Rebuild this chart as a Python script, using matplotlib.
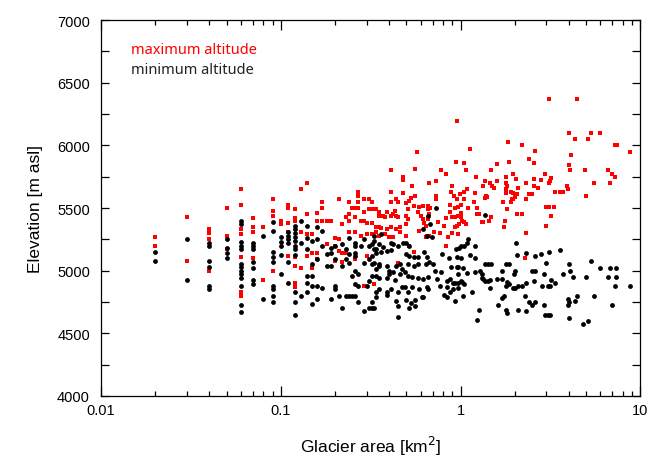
import numpy as np
import matplotlib
matplotlib.use('Agg')
import matplotlib.pyplot as plt
from matplotlib.ticker import FixedLocator, FixedFormatter, MultipleLocator

# maximum altitude per glacier: (area km2, elevation m asl)
max_points = [
    (0.02, 5270), (0.02, 5200),
    (0.03, 5430), (0.03, 5075),
    (0.04, 5330), (0.04, 5300), (0.04, 5250), (0.04, 5000),
    (0.05, 5500), (0.05, 5275), (0.05, 5175),
    (0.06, 5650), (0.06, 5525), (0.06, 5330), (0.06, 5290), (0.06, 5110), (0.06, 4830), (0.06, 4800),
    (0.07, 5420), (0.07, 5350), (0.07, 5310), (0.07, 5100),
    (0.08, 5350), (0.08, 4925),
    (0.09, 5575), (0.09, 5475), (0.09, 5440), (0.09, 5000),
    (0.10, 5400), (0.10, 5370),
    (0.11, 5525), (0.11, 5500), (0.11, 5380), (0.11, 5310), (0.11, 5120),
    (0.12, 5490), (0.12, 5420), (0.12, 5400), (0.12, 5110), (0.12, 5040), (0.12, 4900), (0.12, 4870),
    (0.14, 5700), (0.13, 5650), (0.17, 5550), (0.17, 5500), (0.21, 5570), (0.24, 5545), (0.27, 5625),
    (0.27, 5600), (0.29, 5570), (0.31, 5575), (0.32, 5545), (0.27, 5550), (0.25, 5500), (0.26, 5500),
    (0.27, 5500), (0.29, 5470), (0.31, 5490), (0.32, 5490), (0.34, 5490), (0.35, 5470), (0.14, 5450),
    (0.16, 5460), (0.16, 5400), (0.17, 5400), (0.18, 5400), (0.19, 5400), (0.15, 5290), (0.14, 5290),
    (0.13, 5310), (0.22, 5370), (0.23, 5425), (0.24, 5450), (0.24, 5400), (0.26, 5425), (0.28, 5400),
    (0.29, 5400), (0.30, 5380), (0.32, 5380), (0.34, 5345), (0.34, 5310), (0.32, 5290), (0.30, 5290),
    (0.28, 5280), (0.26, 5310), (0.24, 5310), (0.21, 5250), (0.20, 5265), (0.18, 5215), (0.20, 5195),
    (0.21, 5160), (0.22, 5145), (0.23, 5140), (0.14, 5120), (0.15, 5145), (0.16, 5145), (0.16, 5095),
    (0.13, 5025), (0.15, 5025), (0.20, 5080), (0.22, 5070), (0.26, 5095), (0.29, 4880), (0.33, 4895),
    (0.30, 5120),
    (0.95, 6195), (0.57, 5950), (0.94, 5870), (0.41, 5800), (0.56, 5810), (0.48, 5745), (0.48, 5725),
    (0.78, 5800), (0.83, 5770), (0.73, 5720), (0.67, 5700), (0.54, 5675), (0.90, 5675), (0.41, 5625),
    (0.48, 5620), (0.56, 5595), (0.73, 5595), (0.73, 5570), (0.89, 5625), (0.92, 5600), (0.44, 5575),
    (0.45, 5550), (0.52, 5560), (0.53, 5580), (0.50, 5540), (0.41, 5550), (0.96, 5575), (0.55, 5515),
    (0.59, 5510), (0.62, 5520), (0.66, 5520), (0.68, 5500), (0.87, 5525), (0.97, 5510),
    (0.35, 5440), (0.37, 5440), (0.38, 5430), (0.39, 5470), (0.41, 5440), (0.42, 5450), (0.44, 5440),
    (0.45, 5430), (0.43, 5480),
    (0.51, 5490), (0.50, 5440), (0.51, 5410), (0.50, 5375), (0.50, 5280),
    (0.58, 5470), (0.60, 5440), (0.62, 5410), (0.63, 5380), (0.64, 5360), (0.66, 5410), (0.67, 5450),
    (0.66, 5490),
    (0.75, 5390), (0.81, 5360), (0.83, 5420), (0.87, 5470), (0.90, 5430), (0.93, 5350), (0.96, 5360),
    (0.35, 5350), (0.36, 5340), (0.39, 5330), (0.41, 5350), (0.44, 5330), (0.46, 5310), (0.46, 5350),
    (0.35, 5280), (0.38, 5290), (0.40, 5270), (0.42, 5270),
    (0.59, 5320), (0.64, 5270), (0.65, 5280), (0.67, 5280),
    (0.71, 5310), (0.77, 5300), (0.85, 5270), (0.90, 5300),
    (0.45, 5060), (0.52, 5200), (0.55, 5150), (0.83, 5200),
    (3.1, 6370), (1.83, 6025), (2.2, 6000), (1.13, 5970), (2.6, 5955), (2.4, 5895), (1.86, 5870),
    (1.6, 5850), (1.04, 5860), (2.56, 5860), (1.07, 5800), (1.48, 5800), (1.97, 5770), (2.03, 5735),
    (2.96, 5770), (1.22, 5745), (1.8, 5745), (1.37, 5720), (1.46, 5700), (1.50, 5675), (1.54, 5660),
    (1.6, 5715), (1.78, 5700), (1.81, 5680), (2.3, 5700), (2.56, 5735), (2.8, 5725), (2.58, 5680),
    (1.33, 5675), (2.1, 5660), (2.7, 5660), (1.09, 5650), (1.05, 5630), (0.99, 5610), (1.2, 5620),
    (1.78, 5650), (1.78, 5620), (1.9, 5630), (1.95, 5620), (2.05, 5610), (2.0, 5590), (1.97, 5575),
    (1.93, 5570), (2.5, 5610), (2.4, 5610), (1.38, 5595), (1.40, 5590), (1.36, 5580), (2.3, 5570),
    (1.05, 5570), (1.19, 5550), (1.73, 5550), (1.91, 5550), (1.0, 5525), (1.1, 5500), (1.24, 5500),
    (0.93, 5500), (1.82, 5490), (1.01, 5460), (1.01, 5425), (1.24, 5450), (1.27, 5450), (1.47, 5430),
    (1.44, 5400), (2.05, 5450), (2.2, 5450), (0.93, 5425), (0.97, 5440), (1.02, 5400), (1.07, 5370),
    (1.05, 5385), (0.98, 5370), (1.31, 5385), (1.33, 5385), (1.76, 5400), (1.74, 5345), (3.0, 5360),
    (2.3, 5300), (0.97, 5290), (2.28, 5100),
    (4.45, 6370), (4.0, 6100), (5.3, 6100), (6.0, 6100), (4.35, 6050), (5.1, 6050), (7.2, 6000),
    (7.4, 6000), (8.8, 5950), (4.1, 5925), (4.0, 5840), (4.05, 5800), (4.9, 5800), (6.6, 5800),
    (7.0, 5770), (7.2, 5745), (3.2, 5740), (3.15, 5715), (3.1, 5700), (5.5, 5700), (6.8, 5700),
    (3.9, 5675), (3.95, 5650), (3.35, 5630), (3.6, 5630), (3.7, 5630), (5.0, 5600), (3.1, 5510),
    (3.3, 5510), (2.98, 5510), (3.2, 5435),
]

# minimum altitude per glacier: (area km2, elevation m asl)
min_points = [
    (0.02, 5150), (0.02, 5075),
    (0.03, 5250), (0.03, 4925),
    (0.04, 5225), (0.04, 5200), (0.04, 5075), (0.04, 5030), (0.04, 4880), (0.04, 4850),
    (0.05, 5250), (0.05, 5180), (0.05, 5140), (0.05, 5100),
    (0.06, 5400), (0.06, 5370), (0.06, 5230), (0.06, 5200), (0.06, 5175), (0.06, 5050), (0.06, 5030),
    (0.06, 5000), (0.06, 4970), (0.06, 4940), (0.06, 4875), (0.06, 4725), (0.06, 4670),
    (0.07, 5220), (0.07, 5200), (0.07, 5175), (0.07, 5070), (0.07, 5020), (0.07, 4925), (0.07, 4890),
    (0.08, 5275), (0.08, 4775),
    (0.09, 5390), (0.09, 5320), (0.09, 5150), (0.09, 5110), (0.09, 5070), (0.09, 4880), (0.09, 4850),
    (0.09, 4800), (0.09, 4750),
    (0.10, 5270), (0.10, 5230), (0.10, 5200), (0.10, 5125), (0.10, 4975),
    (0.11, 5310), (0.11, 5280), (0.11, 5250), (0.11, 5220), (0.11, 5070), (0.11, 4900),
    (0.12, 5360), (0.12, 5330), (0.12, 5300), (0.12, 5270), (0.12, 5240), (0.12, 5200), (0.12, 5170),
    (0.12, 5125), (0.12, 4830), (0.12, 4750), (0.12, 4650),
    (0.13, 5400), (0.13, 5225), (0.14, 5360), (0.14, 5265), (0.14, 5175), (0.15, 5240), (0.16, 5250),
    (0.16, 5345), (0.17, 5320), (0.17, 5200), (0.16, 5095), (0.15, 5055), (0.14, 4960), (0.15, 4960),
    (0.14, 4905), (0.15, 4880), (0.16, 4880), (0.13, 4800), (0.14, 4830), (0.15, 4735), (0.16, 4775),
    (0.17, 4865), (0.18, 5040), (0.19, 5040), (0.19, 5185), (0.20, 5200), (0.22, 5215), (0.24, 5265),
    (0.23, 5175), (0.24, 5135), (0.26, 5200), (0.26, 5225), (0.28, 5200), (0.29, 5250), (0.31, 5200),
    (0.32, 5215), (0.33, 5175), (0.34, 5145), (0.32, 5120), (0.31, 5095), (0.29, 5065), (0.32, 5055),
    (0.35, 5055), (0.34, 5015), (0.32, 4960), (0.31, 4920), (0.30, 4880), (0.27, 4975), (0.26, 5000),
    (0.25, 4960), (0.26, 4895), (0.27, 4880), (0.26, 4800), (0.25, 4800), (0.24, 4800), (0.23, 4800),
    (0.20, 4880), (0.20, 4855), (0.21, 4800), (0.19, 4775), (0.22, 4700), (0.27, 4750), (0.29, 4675),
    (0.32, 4750), (0.32, 4700), (0.31, 4700), (0.34, 4830), (0.26, 5145), (0.18, 5135), (0.20, 5095),
    (0.22, 5040), (0.23, 5095), (0.24, 5065), (0.26, 5120), (0.19, 5145), (0.33, 5280), (0.36, 5290),
    (0.73, 5500), (0.66, 5440), (0.68, 5370), (0.62, 5330), (0.65, 5280), (0.69, 5270),
    (0.33, 5240), (0.35, 5215), (0.37, 5190), (0.41, 5225), (0.42, 5215), (0.45, 5200), (0.48, 5225),
    (0.50, 5225), (0.52, 5200),
    (0.34, 5175), (0.36, 5150), (0.39, 5160), (0.41, 5165),
    (0.50, 5130), (0.52, 5120), (0.55, 5110), (0.58, 5110),
    (0.63, 5150), (0.65, 5110), (0.67, 5070), (0.70, 5050), (0.64, 5050),
    (0.79, 5135), (0.86, 5100), (0.94, 5175), (0.98, 5185),
    (0.33, 5065), (0.35, 5040), (0.39, 5040), (0.40, 5000), (0.42, 4990), (0.44, 5040), (0.46, 5050),
    (0.47, 5010), (0.49, 4990), (0.51, 5050), (0.55, 5040), (0.58, 5050),
    (0.72, 5000), (0.78, 4990), (0.89, 5030), (0.97, 5030),
    (0.34, 4960), (0.35, 4940), (0.39, 4940), (0.40, 4970), (0.43, 4925), (0.46, 4975), (0.51, 4960),
    (0.54, 4950), (0.58, 4940), (0.62, 4930), (0.66, 4950), (0.74, 4930), (0.84, 4920), (0.87, 4930),
    (0.91, 4900),
    (0.35, 4850), (0.39, 4830), (0.41, 4850), (0.45, 4830), (0.47, 4870), (0.49, 4870), (0.51, 4830),
    (0.54, 4870), (0.59, 4850), (0.61, 4790), (0.65, 4870), (0.66, 4850), (0.77, 4880), (0.81, 4810),
    (0.84, 4870), (0.87, 4830), (0.91, 4850),
    (0.34, 4790), (0.39, 4810), (0.44, 4760), (0.50, 4770), (0.53, 4745), (0.56, 4770), (0.62, 4790),
    (0.84, 4790), (0.93, 4760),
    (0.33, 4700), (0.45, 4720), (0.52, 4700), (0.56, 4720),
    (0.45, 4630),
    (1.37, 5445), (1.1, 5250), (1.08, 5225), (1.05, 5200), (1.0, 5200), (1.2, 5200), (2.03, 5225),
    (0.96, 5110), (1.0, 5100), (1.13, 5125), (1.2, 5100), (2.05, 5125), (2.3, 5145), (2.6, 5115),
    (2.8, 5135),
    (0.95, 5027), (1.03, 5020), (0.97, 4975), (1.08, 4985), (1.2, 4990), (1.28, 5000), (1.31, 4975),
    (1.37, 5050), (1.43, 5050), (1.48, 5050), (1.79, 5050), (1.87, 5050), (1.7, 5000), (2.0, 5000),
    (1.99, 4975), (2.5, 5000), (2.6, 5000), (2.9, 4975), (3.0, 5060),
    (0.93, 4900), (0.97, 4900), (1.0, 4920), (1.02, 4910), (1.04, 4895), (1.31, 4945), (1.33, 4935),
    (1.37, 4915), (1.43, 4915), (1.46, 4925), (1.6, 4935), (1.7, 4935), (1.78, 4880), (1.82, 4910),
    (1.87, 4895), (1.96, 4860), (2.0, 4860), (2.1, 4880), (2.2, 4880), (2.3, 4900), (2.56, 4920),
    (2.85, 4880),
    (0.97, 4860), (1.03, 4800), (1.16, 4830), (1.46, 4860), (1.74, 4800), (1.70, 4780), (2.28, 4800),
    (2.4, 4750), (2.5, 4730), (2.6, 4750), (2.9, 4730),
    (1.62, 4730), (1.78, 4690), (1.82, 4660), (1.27, 4690), (2.1, 4690), (2.3, 4680), (2.96, 4650),
    (1.23, 4605),
    (3.1, 5150), (3.6, 5165), (5.3, 5080), (4.0, 5050), (4.05, 5000), (3.7, 4975), (6.0, 5020),
    (6.8, 5020), (7.3, 5020), (4.2, 4950), (5.0, 4950), (6.6, 4950), (7.3, 4950), (3.2, 4925),
    (3.35, 4900), (3.05, 4875), (3.15, 4875), (7.2, 4875), (8.8, 4875), (4.45, 4800), (5.5, 4800),
    (3.95, 4775), (4.0, 4750), (3.95, 4730), (4.35, 4760), (7.0, 4725), (3.05, 4650), (3.15, 4650),
    (4.0, 4625), (5.1, 4600), (4.8, 4575),
]

x_ticks = [0.01, 0.1, 1, 10]
x_tick_labels = ['0.01', '0.1', '1', '10']

max_area, max_elev = np.array(max_points).T
min_area, min_elev = np.array(min_points).T

plt.rcParams['font.family'] = ['Liberation Sans', 'DejaVu Sans']

fig = plt.figure(figsize=(6.48, 4.6), dpi=100)
ax = fig.add_axes([0.156, 0.137, 0.832, 0.817])

ax.scatter(max_area, max_elev, marker='s', s=9, color='#ff0000', linewidths=0, zorder=2)
ax.scatter(min_area, min_elev, marker='o', s=12, color='black', linewidths=0, zorder=3)

ax.set_xscale('log')
ax.set_xlim(0.01, 10)
ax.set_ylim(4000, 7000)
ax.xaxis.set_major_locator(FixedLocator(x_ticks))
ax.xaxis.set_major_formatter(FixedFormatter(x_tick_labels))
ax.yaxis.set_major_locator(MultipleLocator(500))
ax.yaxis.set_minor_locator(MultipleLocator(250))

ax.tick_params(axis='both', which='both', direction='in', top=True, right=True,
               labelsize=10.5, width=0.9)
ax.tick_params(axis='x', which='major', length=7, pad=5)
ax.tick_params(axis='x', which='minor', length=3.5)
ax.tick_params(axis='y', which='both', length=6, pad=8)
for sp in ax.spines.values():
    sp.set_linewidth(0.9)

ax.set_xlabel('Glacier area [km$^2$]', fontsize=12.5, labelpad=12)
ax.set_ylabel('Elevation [m asl]', fontsize=12.5, labelpad=10)

ax.text(0.055, 0.923, 'maximum altitude', transform=ax.transAxes, color='#ff0000',
        fontsize=10.5, family='Noto Sans', va='center')
ax.text(0.055, 0.868, 'minimum altitude', transform=ax.transAxes, color='#222222',
        fontsize=10.5, family='Noto Sans', va='center')

fig.savefig('out.png', dpi=100)
